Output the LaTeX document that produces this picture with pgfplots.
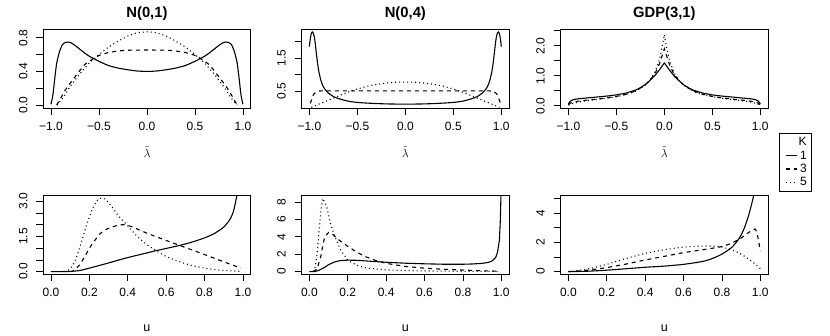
\documentclass[border=0pt]{standalone}
\usepackage{fontspec}
\setmainfont{Liberation Sans}
\usepackage{pgfplots}
\pgfplotsset{compat=1.18}
\begin{document}
\begin{tikzpicture}[x=1pt,y=1pt]
\useasboundingbox (0,0) rectangle (830,336);
\pgfplotsset{
  rpanel/.style={scale only axis, width=207.3pt,
    axis line style={line width=0.8pt}, tick align=outside, major tick length=7pt,
    xtick pos=bottom, ytick pos=left, tick style={line width=0.8pt,black},
    every tick label/.append style={font=\fontsize{12}{12}\selectfont},
    yticklabel style={xshift=-9pt, rotate=90, anchor=base, inner sep=0pt},
    xticklabel style={anchor=base, yshift=-15.5pt, inner sep=0pt},
    title style={at={(0.5,1)}, anchor=base, yshift=5pt, inner sep=0pt,
      font=\bfseries\fontsize{14.8}{15}\selectfont},
    xlabel style={at={(0.5,0)}, anchor=base, inner sep=0pt,
      font=\fontsize{12.5}{13}\selectfont},
  },
  toprow/.style={rpanel, height=79pt, xmin=-1.08, xmax=1.08,
    xtick={-1,-0.5,0,0.5,1}, xticklabels={−1.0,−0.5,0.0,0.5,1.0},
    xlabel={$\tilde{\lambda}$}, xlabel style={yshift=-50pt}},
  botrow/.style={rpanel, height=78.3pt, xmin=-0.04, xmax=1.04,
    xtick={0,0.2,0.4,0.6,0.8,1}, xticklabels={0.0,0.2,0.4,0.6,0.8,1.0},
    xlabel={u}, xlabel style={yshift=-57.5pt}},
  k1/.style={black, line width=1.1pt},
  k3/.style={black, line width=1.1pt, dash pattern=on 4pt off 4pt},
  k5/.style={black, line width=1.1pt, dash pattern=on 1pt off 3pt},
}

% ---- N(0,1), lambda
\begin{axis}[toprow, at={(43.3pt,228pt)}, anchor=south west, title={N(0,1)},
  ymin=-0.035, ymax=0.905, ytick={0,0.2,0.4,0.6,0.8}, yticklabels={0.0,,0.4,,0.8}]
\addplot[k1, smooth, tension=0.4] coordinates {
(-1,0.01)(-0.98,0.12)(-0.96,0.32)(-0.94,0.50)(-0.91,0.64)(-0.88,0.72)(-0.85,0.745)
(-0.82,0.75)(-0.79,0.74)(-0.75,0.71)(-0.7,0.665)(-0.65,0.62)(-0.6,0.58)(-0.55,0.55)
(-0.5,0.52)(-0.4,0.47)(-0.3,0.44)(-0.2,0.42)(-0.1,0.405)(0,0.40)
(0.1,0.405)(0.2,0.42)(0.3,0.44)(0.4,0.47)(0.5,0.52)(0.55,0.55)(0.6,0.58)(0.65,0.62)
(0.7,0.665)(0.75,0.71)(0.79,0.74)(0.82,0.75)(0.85,0.745)(0.88,0.72)(0.91,0.64)
(0.94,0.50)(0.96,0.32)(0.98,0.12)(1,0.01)};
\addplot[k3, smooth, tension=0.4] coordinates {
(-0.94,0)(-0.9,0.08)(-0.85,0.18)(-0.8,0.26)(-0.76,0.32)(-0.7,0.41)(-0.65,0.48)
(-0.6,0.52)(-0.55,0.56)(-0.5,0.59)(-0.4,0.625)(-0.3,0.643)(-0.2,0.652)(0,0.655)
(0.2,0.652)(0.3,0.643)(0.4,0.625)(0.5,0.59)(0.55,0.56)(0.6,0.52)(0.65,0.48)
(0.7,0.41)(0.76,0.32)(0.8,0.26)(0.85,0.18)(0.9,0.08)(0.94,0)};
\addplot[k5, smooth, tension=0.4] coordinates {
(-0.94,0)(-0.9,0.05)(-0.85,0.13)(-0.8,0.22)(-0.7,0.37)(-0.6,0.50)(-0.55,0.55)
(-0.5,0.60)(-0.4,0.69)(-0.3,0.76)(-0.2,0.82)(-0.1,0.86)(0,0.87)
(0.1,0.86)(0.2,0.82)(0.3,0.76)(0.4,0.69)(0.5,0.60)(0.55,0.55)(0.6,0.50)
(0.7,0.37)(0.8,0.22)(0.85,0.13)(0.9,0.05)(0.94,0)};
\end{axis}

% ---- N(0,4), lambda
\begin{axis}[toprow, at={(301.7pt,228pt)}, anchor=south west, title={N(0,4)},
  ymin=-0.02, ymax=2.39, ytick={0.5,1,1.5,2}, yticklabels={0.5,,1.5,}]
\addplot[k1, smooth, tension=0.4] coordinates {
(-1,1.85)(-0.99,2.1)(-0.98,2.25)(-0.97,2.30)(-0.96,2.27)(-0.95,2.17)(-0.94,1.98)
(-0.93,1.72)(-0.92,1.47)(-0.91,1.25)(-0.9,1.07)(-0.88,0.82)(-0.86,0.66)(-0.84,0.56)
(-0.82,0.49)(-0.8,0.43)(-0.75,0.33)(-0.7,0.27)(-0.6,0.19)(-0.5,0.15)(-0.4,0.13)
(-0.3,0.115)(-0.2,0.105)(-0.1,0.1)(0,0.1)
(0.1,0.1)(0.2,0.105)(0.3,0.115)(0.4,0.13)(0.5,0.15)(0.6,0.19)(0.7,0.27)(0.75,0.33)
(0.8,0.43)(0.82,0.49)(0.84,0.56)(0.86,0.66)(0.88,0.82)(0.9,1.07)(0.91,1.25)
(0.92,1.47)(0.93,1.72)(0.94,1.98)(0.95,2.17)(0.96,2.27)(0.97,2.30)(0.98,2.25)
(0.99,2.1)(1,1.85)};
\addplot[k3, smooth, tension=0.4] coordinates {
(-0.99,0.12)(-0.97,0.3)(-0.95,0.42)(-0.92,0.48)(-0.88,0.5)(-0.5,0.5)(0,0.5)
(0.5,0.5)(0.88,0.5)(0.92,0.48)(0.95,0.42)(0.97,0.3)(0.99,0.12)};
\addplot[k5, smooth, tension=0.4] coordinates {
(-0.98,0)(-0.9,0.1)(-0.8,0.22)(-0.7,0.34)(-0.6,0.46)(-0.5,0.56)(-0.4,0.64)
(-0.3,0.70)(-0.2,0.74)(-0.1,0.765)(0,0.77)
(0.1,0.765)(0.2,0.74)(0.3,0.70)(0.4,0.64)(0.5,0.56)(0.6,0.46)(0.7,0.34)
(0.8,0.22)(0.9,0.1)(0.98,0)};
\end{axis}

% ---- GDP(3,1), lambda (carries the legend)
\begin{axis}[toprow, at={(560.7pt,228pt)}, anchor=south west, title={GDP(3,1)},
  ymin=-0.077, ymax=2.557, ytick={0,0.5,1,1.5,2,2.5}, yticklabels={0.0,,1.0,,2.0,},
  legend style={at={(1.0546,-0.32)}, anchor=north west, draw=black, line width=0.6pt,
    font=\fontsize{12}{12}\selectfont, row sep=1.5pt, inner xsep=4pt, inner ysep=3pt,
    /tikz/column sep=0pt, nodes={inner sep=1pt}, cells={anchor=east}},
  legend image code/.code={\path (0pt,0pt); \draw[#1] (2pt,0pt) -- (13pt,0pt);}]
\addlegendimage{empty legend}
\addplot[k1] coordinates {
(-1,0.06)(-0.98,0.15)(-0.95,0.2)(-0.9,0.23)(-0.8,0.26)(-0.7,0.29)(-0.6,0.32)
(-0.5,0.36)(-0.4,0.42)(-0.3,0.52)(-0.25,0.60)(-0.2,0.70)(-0.15,0.84)(-0.1,1.0)
(-0.05,1.2)(-0.02,1.34)(0,1.42)
(0.02,1.34)(0.05,1.2)(0.1,1.0)(0.15,0.84)(0.2,0.70)(0.25,0.60)(0.3,0.52)(0.4,0.42)
(0.5,0.36)(0.6,0.32)(0.7,0.29)(0.8,0.26)(0.9,0.23)(0.95,0.2)(0.98,0.15)(1,0.06)};
\addplot[k3] coordinates {
(-1,0.03)(-0.97,0.1)(-0.9,0.15)(-0.8,0.19)(-0.7,0.22)(-0.6,0.26)(-0.5,0.31)
(-0.4,0.38)(-0.3,0.49)(-0.2,0.69)(-0.15,0.85)(-0.1,1.05)(-0.05,1.4)(-0.02,1.7)(0,1.9)
(0.02,1.7)(0.05,1.4)(0.1,1.05)(0.15,0.85)(0.2,0.69)(0.3,0.49)(0.4,0.38)(0.5,0.31)
(0.6,0.26)(0.7,0.22)(0.8,0.19)(0.9,0.15)(0.97,0.1)(1,0.03)};
\addplot[k5] coordinates {
(-1,0.02)(-0.95,0.08)(-0.9,0.12)(-0.8,0.17)(-0.7,0.21)(-0.6,0.25)(-0.5,0.30)
(-0.4,0.37)(-0.3,0.48)(-0.2,0.68)(-0.15,0.85)(-0.1,1.1)(-0.05,1.55)(-0.02,2.0)(0,2.37)
(0.02,2.0)(0.05,1.55)(0.1,1.1)(0.15,0.85)(0.2,0.68)(0.3,0.48)(0.4,0.37)(0.5,0.30)
(0.6,0.25)(0.7,0.21)(0.8,0.17)(0.9,0.12)(0.95,0.08)(1,0.02)};
\legend{{K\hspace{7pt}},1,3,5}
\end{axis}

% ---- N(0,1), u
\begin{axis}[botrow, at={(43.3pt,62pt)}, anchor=south west,
  ymin=-0.1, ymax=3.24, ytick={0,0.5,1,1.5,2,2.5,3}, yticklabels={0.0,,,1.5,,,3.0}]
\addplot[k1, smooth, tension=0.4] coordinates {
(0,0)(0.1,0.01)(0.15,0.05)(0.2,0.15)(0.25,0.26)(0.3,0.37)(0.35,0.49)(0.4,0.60)
(0.45,0.70)(0.5,0.80)(0.55,0.90)(0.6,0.99)(0.65,1.08)(0.7,1.18)(0.75,1.30)
(0.8,1.44)(0.85,1.62)(0.9,1.90)(0.93,2.2)(0.95,2.55)(0.97,3.3)};
\addplot[k3, smooth, tension=0.4] coordinates {
(0.1,0)(0.12,0.05)(0.15,0.3)(0.18,0.7)(0.2,1.0)(0.23,1.35)(0.26,1.65)(0.3,1.85)
(0.35,1.98)(0.38,2.0)(0.42,1.92)(0.5,1.64)(0.6,1.33)(0.7,1.03)(0.8,0.73)
(0.9,0.42)(0.99,0.15)};
\addplot[k5, smooth, tension=0.4] coordinates {
(0.07,0)(0.1,0.12)(0.13,0.55)(0.16,1.3)(0.19,2.1)(0.22,2.75)(0.25,3.12)(0.28,3.1)
(0.31,2.85)(0.35,2.4)(0.4,1.95)(0.45,1.5)(0.5,1.15)(0.55,0.88)(0.6,0.65)
(0.65,0.48)(0.7,0.34)(0.75,0.23)(0.8,0.15)(0.85,0.09)(0.9,0.05)(0.95,0.03)(0.99,0.01)};
\end{axis}

% ---- N(0,4), u
\begin{axis}[botrow, at={(301.7pt,62pt)}, anchor=south west,
  ymin=-0.27, ymax=8.72, ytick={0,2,4,6,8}, yticklabels={0,2,4,6,8}]
\addplot[k1] coordinates {
(0,0)(0.03,0.02)(0.05,0.15)(0.08,0.5)(0.1,0.8)(0.13,1.1)(0.16,1.27)(0.2,1.32)
(0.25,1.3)(0.3,1.22)(0.4,1.08)(0.5,0.97)(0.6,0.9)(0.7,0.85)(0.8,0.85)(0.85,0.88)
(0.9,0.95)(0.93,1.05)(0.95,1.2)(0.97,1.6)(0.98,2.2)(0.99,3.6)(0.995,6.0)(0.999,9.5)};
\addplot[k3] coordinates {
(0.02,0)(0.04,0.3)(0.06,1.8)(0.07,3.0)(0.08,4.0)(0.1,4.5)(0.12,4.3)(0.15,3.7)
(0.2,2.9)(0.25,2.2)(0.3,1.65)(0.35,1.25)(0.4,0.95)(0.5,0.6)(0.6,0.4)(0.7,0.27)
(0.8,0.18)(0.9,0.1)(0.99,0.05)};
\addplot[k5] coordinates {
(0.02,0)(0.03,0.5)(0.04,2.0)(0.05,4.5)(0.06,7.0)(0.07,8.4)(0.09,7.5)(0.11,5.5)
(0.13,4.2)(0.16,2.6)(0.2,1.3)(0.25,0.7)(0.3,0.4)(0.4,0.2)(0.5,0.12)(0.6,0.08)
(0.8,0.04)(0.99,0.02)};
\end{axis}

% ---- GDP(3,1), u
\begin{axis}[botrow, at={(560.7pt,62pt)}, anchor=south west,
  ymin=-0.16, ymax=5.2, ytick={0,1,2,3,4,5}, yticklabels={0,,2,,4,}]
\addplot[k1, smooth, tension=0.4] coordinates {
(0,0)(0.1,0.03)(0.2,0.1)(0.3,0.2)(0.4,0.3)(0.5,0.38)(0.6,0.5)(0.7,0.7)(0.75,0.9)
(0.8,1.2)(0.85,1.65)(0.88,2.1)(0.9,2.5)(0.92,3.1)(0.94,3.9)(0.96,4.9)(0.97,5.6)};
\addplot[k3, smooth, tension=0.4] coordinates {
(0,0)(0.1,0.1)(0.2,0.28)(0.3,0.52)(0.4,0.8)(0.5,1.05)(0.6,1.3)(0.7,1.5)(0.8,1.72)
(0.85,1.95)(0.9,2.3)(0.93,2.6)(0.96,2.85)(0.975,2.9)(0.985,2.5)(0.995,1.8)(1,1.4)};
\addplot[k5, smooth, tension=0.4] coordinates {
(0,0)(0.1,0.18)(0.2,0.5)(0.3,0.9)(0.4,1.25)(0.5,1.5)(0.6,1.68)(0.7,1.75)(0.75,1.75)
(0.8,1.68)(0.85,1.5)(0.9,1.2)(0.95,0.75)(0.98,0.45)(1,0.2)};
\end{axis}
\end{tikzpicture}
\end{document}
